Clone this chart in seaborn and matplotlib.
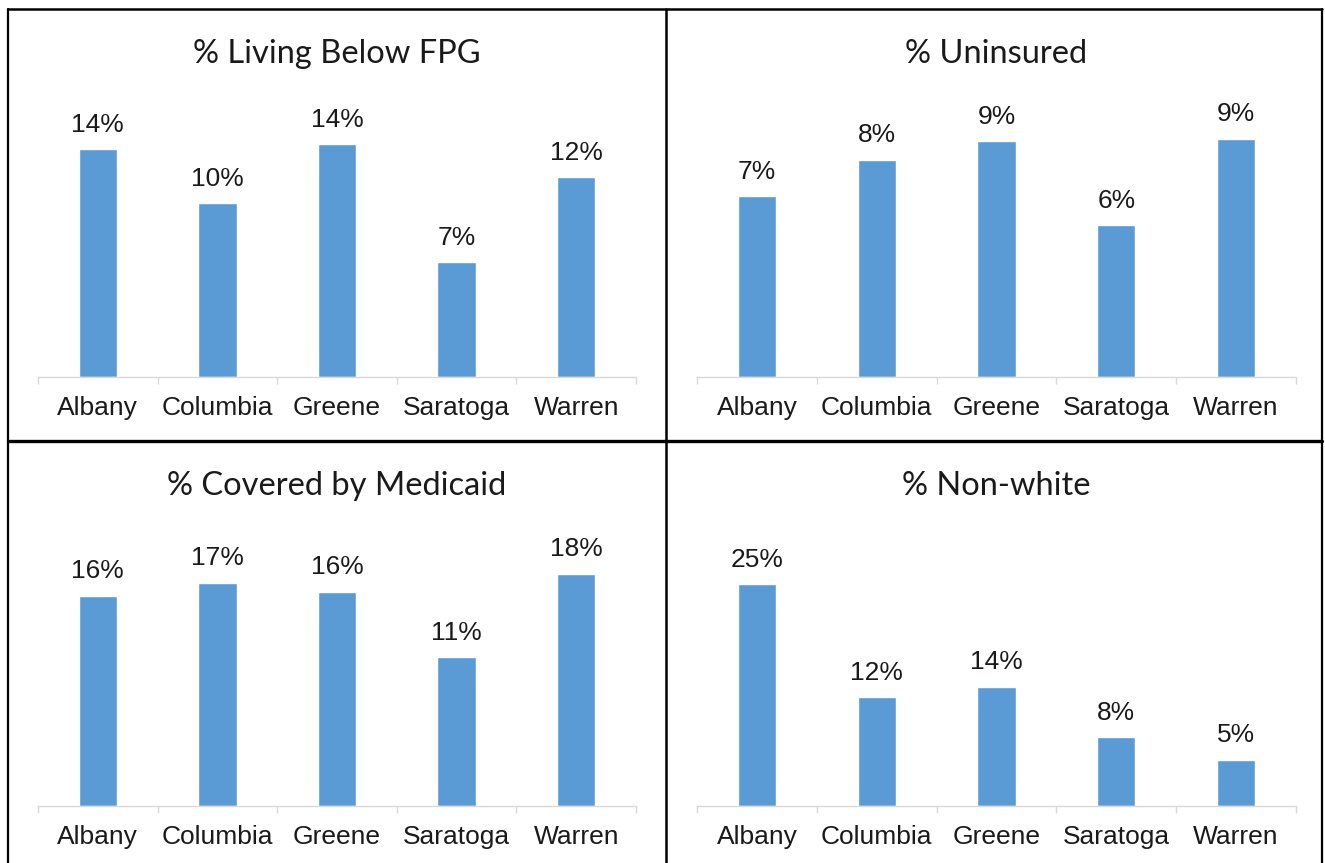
import matplotlib
matplotlib.use("Agg")
import matplotlib.pyplot as plt
import seaborn as sns
from matplotlib.lines import Line2D

counties = ["Albany", "Columbia", "Greene", "Saratoga", "Warren"]

below_fpg = [13.9, 10.6, 14.2, 7.0, 12.2]
below_fpg_labels = ["14%", "10%", "14%", "7%", "12%"]

uninsured = [6.9, 8.3, 9.0, 5.8, 9.1]
uninsured_labels = ["7%", "8%", "9%", "6%", "9%"]

medicaid = [16.1, 17.1, 16.4, 11.4, 17.8]
medicaid_labels = ["16%", "17%", "16%", "11%", "18%"]

non_white = [25.5, 12.5, 13.7, 7.9, 5.3]
non_white_labels = ["25%", "12%", "14%", "8%", "5%"]

panels = [
    ("% Living Below FPG", below_fpg, below_fpg_labels, 16),
    ("% Uninsured", uninsured, uninsured_labels, 10),
    ("% Covered by Medicaid", medicaid, medicaid_labels, 20),
    ("% Non-white", non_white, non_white_labels, 30),
]

W, H = 1325, 863
BAR_COLOR = "#5B9BD5"
AXIS_GRAY = "#d9d9d9"

sns.set_theme(style="white")
plt.rcParams["font.family"] = ["Liberation Sans", "DejaVu Sans"]

fig = plt.figure(figsize=(W / 100, H / 100), dpi=100)


def px_box(left, right, top, bottom):
    return [left / W, 1 - bottom / H, (right - left) / W, (bottom - top) / H]


# pixel geometry of each plot area: (left, right, top, bottom, title_y)
boxes = [
    (38, 636, 115, 377, 54),
    (697, 1296, 115, 377, 54),
    (38, 636, 545, 806, 486),
    (697, 1296, 545, 806, 486),
]

for (title, vals, labels, ymax), (l, r, t, b, ty) in zip(panels, boxes):
    ax = fig.add_axes(px_box(l, r, t, b))
    sns.barplot(x=counties, y=vals, color=BAR_COLOR, saturation=1,
                width=0.32, ax=ax)
    ax.bar_label(ax.containers[0], labels=labels, padding=9,
                 fontsize=19, color="#1a1a1a")
    ax.set_ylim(0, ymax)
    ax.set_xlim(-0.5, 4.5)
    for s in ["top", "left", "right"]:
        ax.spines[s].set_visible(False)
    ax.spines["bottom"].set_color(AXIS_GRAY)
    ax.spines["bottom"].set_linewidth(1)
    ax.set_yticks([])
    ax.set_xticks([i - 0.5 for i in range(6)], minor=True)
    ax.tick_params(axis="x", which="major", length=0, pad=14,
                   labelsize=19, labelcolor="#1a1a1a")
    ax.tick_params(axis="x", which="minor", length=5, width=1,
                   color=AXIS_GRAY, direction="out", bottom=True)
    ax.set_xlabel("")
    ax.set_ylabel("")
    fig.text((l + r) / 2 / W, 1 - ty / H, title, ha="center", va="center",
             fontsize=23.5, color="#1a1a1a", family=["Lato", "DejaVu Sans"])

# chart frames
frame_lines = [
    ((8, 1322), (9, 9), 1.8),
    ((8, 1322), (441, 441), 2.4),
    ((8, 8), (9, 863), 1.6),
    ((666, 666), (9, 863), 1.8),
    ((1322, 1322), (9, 863), 1.6),
]
for xs, ys, lw in frame_lines:
    fig.add_artist(Line2D([x / W for x in xs], [1 - y / H for y in ys],
                          color="black", linewidth=lw,
                          transform=fig.transFigure))

fig.savefig("out.png", dpi=100)
